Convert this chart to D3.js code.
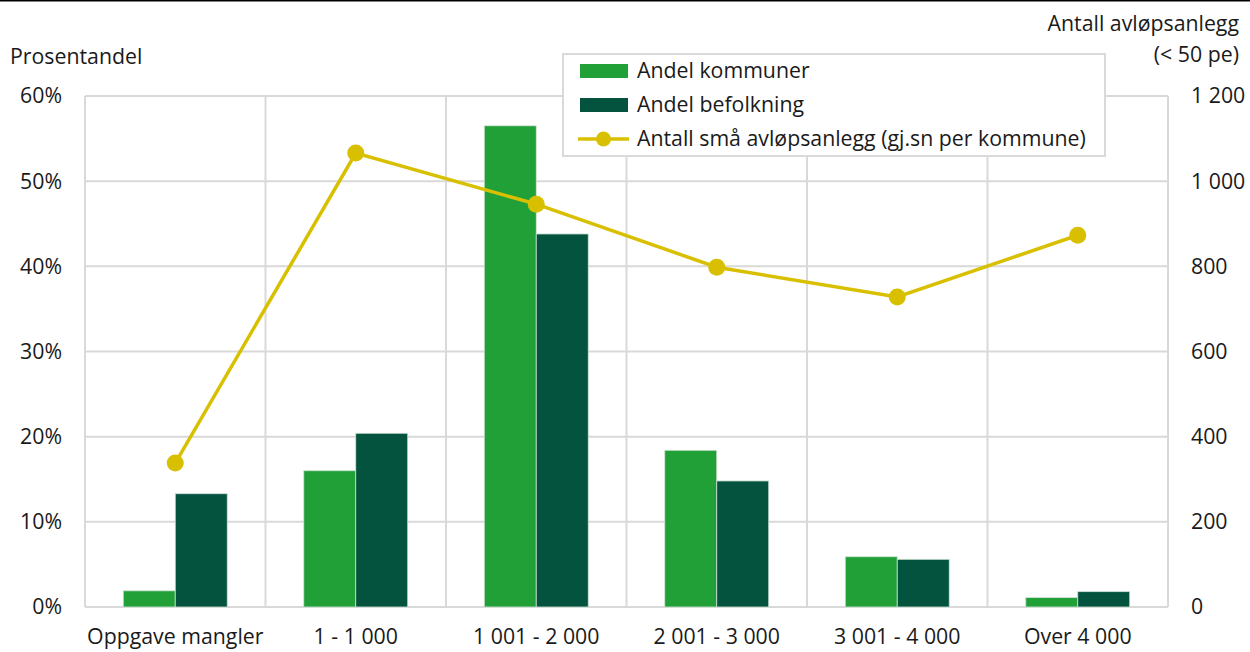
<!DOCTYPE html>
<html>
<head>
<meta charset="utf-8">
<script src="https://cdn.jsdelivr.net/npm/d3@7"></script>
<style>
  html, body { margin: 0; padding: 0; background: #fff; }
  svg { display: block; font-family: "Open Sans", "Noto Sans", sans-serif; }
</style>
</head>
<body>
<svg id="chart" width="1250" height="652"></svg>
<script>
// Size classes of municipalities (population)
const categories = ["Oppgave mangler", "1 - 1 000", "1 001 - 2 000", "2 001 - 3 000", "3 001 - 4 000", "Over 4 000"];
// Share of municipalities (%)
const andelKommuner = [1.9, 16.0, 56.5, 18.4, 5.9, 1.1];
// Share of population (%)
const andelBefolkning = [13.3, 20.4, 43.8, 14.8, 5.6, 1.8];
// Average number of small wastewater plants per municipality
const antallAnlegg = [338, 1066, 946, 798, 728, 873];

const leftTicks = [0, 10, 20, 30, 40, 50, 60];
const rightTicks = [0, 200, 400, 600, 800, 1000, 1200];

const colKommuner = "#21a038";
const colBefolkning = "#03533f";
const colLine = "#d8c000";
const colGrid = "#d9d9d9";
const colText = "#1a1a1a";
const fs = 21.3;

const svg = d3.select("#chart");
const W = 1250, H = 652;
const m = { left: 85, right: 1168, top: 96, bottom: 607 };

// top rule
svg.append("line").attr("x1", 0).attr("x2", W).attr("y1", 0.5).attr("y2", 0.5)
  .attr("stroke", "#000").attr("stroke-width", 2);

const x = d3.scaleBand().domain(categories).range([m.left, m.right]).padding(0);
const yL = d3.scaleLinear().domain([0, 60]).range([m.bottom, m.top]);
const yR = d3.scaleLinear().domain([0, 1200]).range([m.bottom, m.top]);

// horizontal gridlines
svg.append("g").selectAll("line").data(leftTicks).join("line")
  .attr("x1", m.left).attr("x2", m.right)
  .attr("y1", d => yL(d)).attr("y2", d => yL(d))
  .attr("stroke", colGrid).attr("stroke-width", 2);

// vertical gridlines between categories
const vx = categories.map(c => x(c)).concat([m.right]);
svg.append("g").selectAll("line").data(vx).join("line")
  .attr("x1", d => d).attr("x2", d => d)
  .attr("y1", m.top).attr("y2", m.bottom)
  .attr("stroke", colGrid).attr("stroke-width", 2);

// bars
const barW = x.bandwidth() * 0.288;
const gBars = svg.append("g");
categories.forEach((c, i) => {
  const cx = x(c) + x.bandwidth() / 2;
  gBars.append("rect")
    .attr("x", cx - barW).attr("width", barW)
    .attr("y", yL(andelKommuner[i])).attr("height", yL(0) - yL(andelKommuner[i]))
    .attr("fill", colKommuner).attr("stroke", "#cfe3d6").attr("stroke-width", 0.8);
  gBars.append("rect")
    .attr("x", cx).attr("width", barW)
    .attr("y", yL(andelBefolkning[i])).attr("height", yL(0) - yL(andelBefolkning[i]))
    .attr("fill", colBefolkning).attr("stroke", "#cfe3d6").attr("stroke-width", 0.8);
});

// line series on right axis
const pts = categories.map((c, i) => [x(c) + x.bandwidth() / 2, yR(antallAnlegg[i])]);
svg.append("path").attr("d", d3.line()(pts))
  .attr("fill", "none").attr("stroke", colLine).attr("stroke-width", 3.5);
svg.append("g").selectAll("circle").data(pts).join("circle")
  .attr("cx", d => d[0]).attr("cy", d => d[1]).attr("r", 8.5)
  .attr("fill", colLine);

// left axis labels
const fmtPct = d => d + "%";
svg.append("g").selectAll("text").data(leftTicks).join("text")
  .attr("x", 62).attr("y", d => yL(d)).attr("dy", "0.35em")
  .attr("text-anchor", "end").attr("font-size", fs).attr("fill", colText)
  .text(fmtPct);

// right axis labels (space as thousands separator)
const fmtNum = d => d3.format(",")(d).replace(/,/g, "\u00a0");
svg.append("g").selectAll("text").data(rightTicks).join("text")
  .attr("x", 1191).attr("y", d => yR(d)).attr("dy", "0.35em")
  .attr("text-anchor", "start").attr("font-size", fs).attr("fill", colText)
  .text(fmtNum);

// category labels
svg.append("g").selectAll("text").data(categories).join("text")
  .attr("x", d => x(d) + x.bandwidth() / 2).attr("y", 637).attr("dy", "0.35em")
  .attr("text-anchor", "middle").attr("font-size", fs).attr("fill", colText)
  .text(d => d);

// axis titles
svg.append("text").attr("x", 10).attr("y", 57).attr("dy", "0.35em")
  .attr("font-size", fs).attr("fill", colText).text("Prosentandel");
svg.append("text").attr("x", 1239).attr("y", 24).attr("dy", "0.35em")
  .attr("text-anchor", "end").attr("font-size", fs).attr("fill", colText).text("Antall avløpsanlegg");
svg.append("text").attr("x", 1239).attr("y", 55).attr("dy", "0.35em")
  .attr("text-anchor", "end").attr("font-size", fs).attr("fill", colText).text("(< 50 pe)");

// legend
const lg = svg.append("g");
lg.append("rect").attr("x", 563).attr("y", 54).attr("width", 542).attr("height", 102)
  .attr("fill", "#fff").attr("stroke", colGrid).attr("stroke-width", 2);
const legendItems = [
  { label: "Andel kommuner", type: "bar", color: colKommuner },
  { label: "Andel befolkning", type: "bar", color: colBefolkning },
  { label: "Antall små avløpsanlegg (gj.sn per kommune)", type: "line", color: colLine }
];
legendItems.forEach((it, i) => {
  const cy = 71 + i * 34;
  if (it.type === "bar") {
    lg.append("rect").attr("x", 580).attr("y", cy - 7).attr("width", 48).attr("height", 14).attr("fill", it.color);
  } else {
    lg.append("line").attr("x1", 578).attr("x2", 629).attr("y1", cy).attr("y2", cy)
      .attr("stroke", it.color).attr("stroke-width", 3.5);
    lg.append("circle").attr("cx", 603.5).attr("cy", cy).attr("r", 7.5).attr("fill", it.color);
  }
  lg.append("text").attr("x", 637).attr("y", cy).attr("dy", "0.35em")
    .attr("font-size", fs).attr("fill", colText).text(it.label);
});
</script>
</body>
</html>
